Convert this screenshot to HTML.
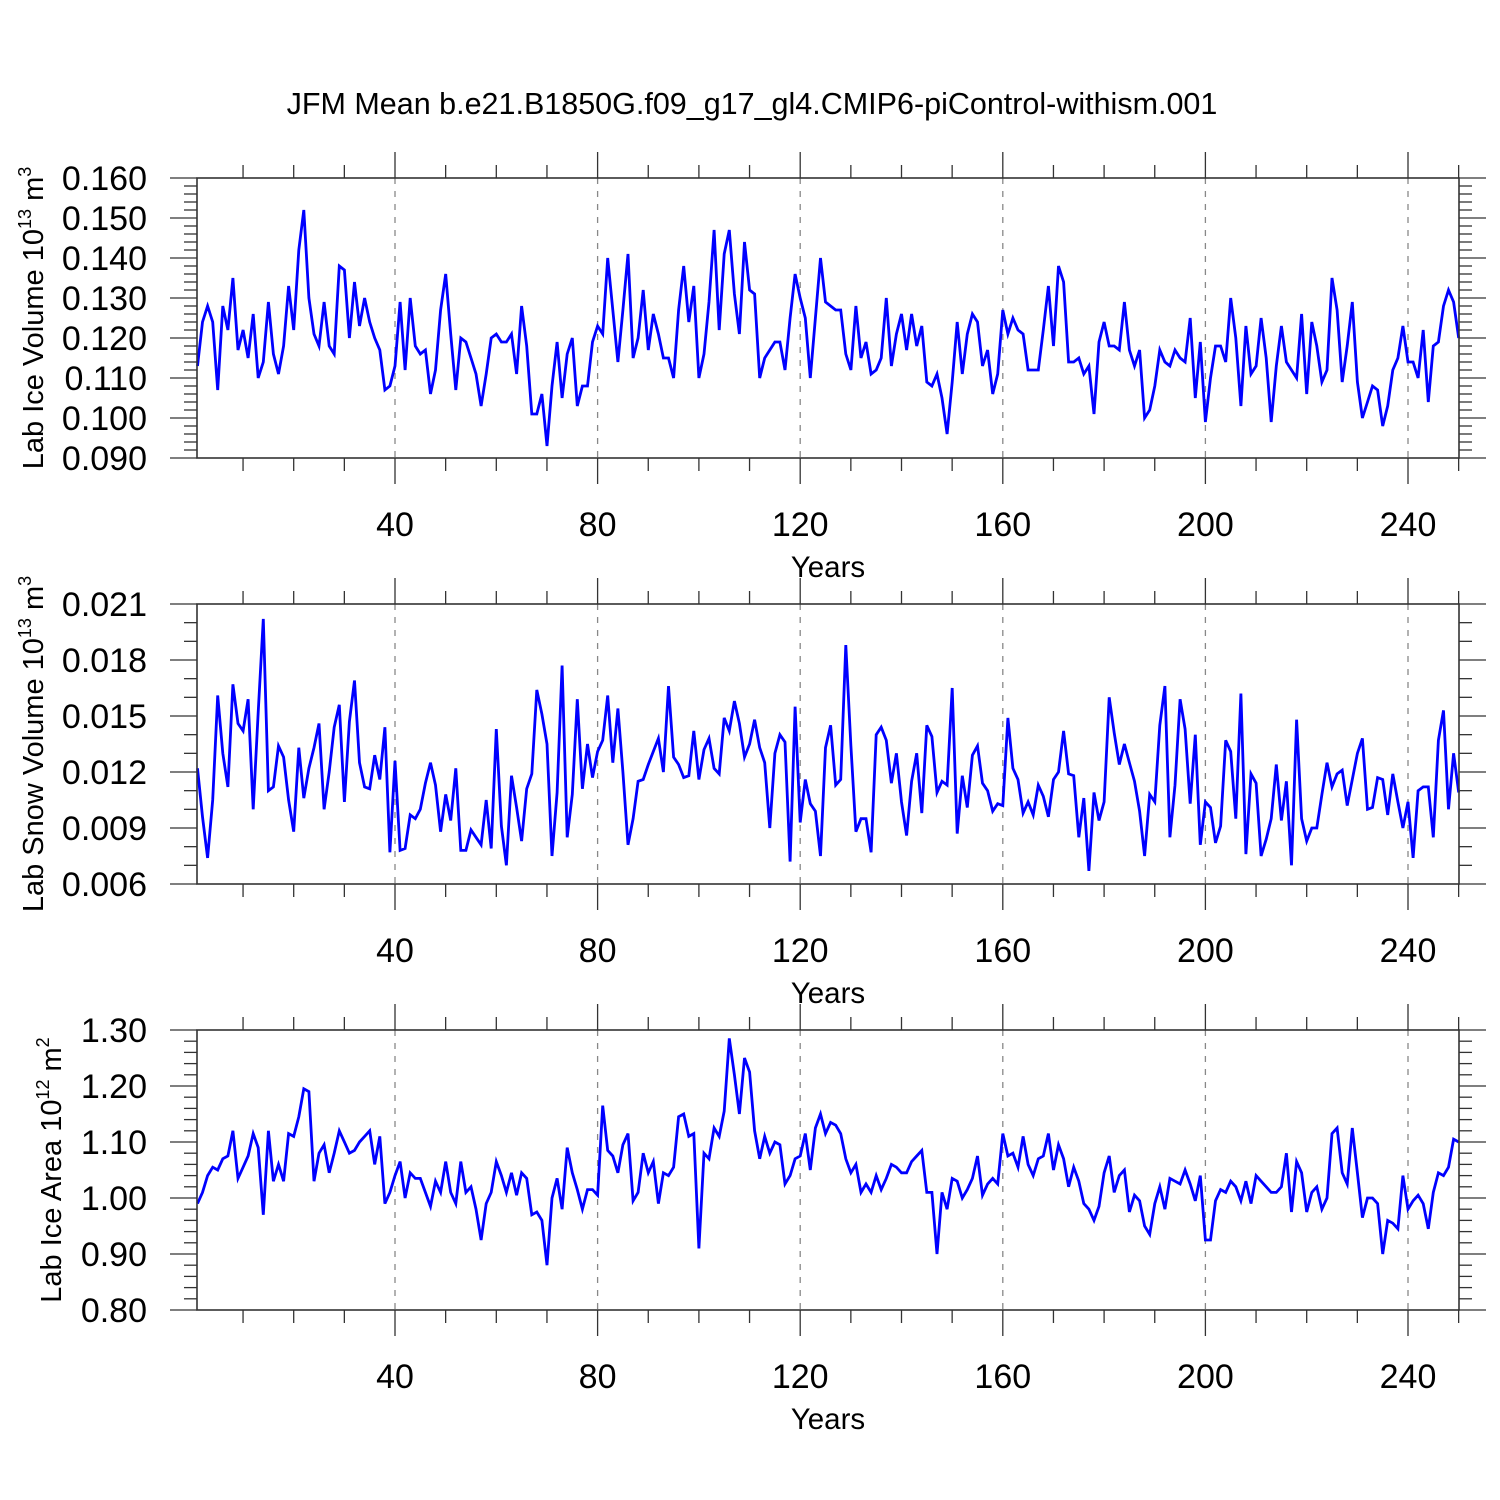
<!DOCTYPE html>
<html><head><meta charset="utf-8">
<style>
html,body{margin:0;padding:0;background:#fff;}
svg{display:block;font-family:"Liberation Sans",Arial,sans-serif;}
</style></head>
<body>
<svg id="chart" width="1500" height="1500" viewBox="0 0 1500 1500" xmlns="http://www.w3.org/2000/svg">
<rect width="1500" height="1500" fill="#fff"/>
<text x="752" y="114" font-size="30.5" text-anchor="middle" fill="#000">JFM Mean b.e21.B1850G.f09_g17_gl4.CMIP6-piControl-withism.001</text>
</svg>
<script>
const iceVolume=[0.113,0.124,0.128,0.124,0.107,0.128,0.122,0.135,0.117,0.122,0.115,0.126,0.110,0.114,0.129,0.116,0.111,0.118,0.133,0.122,0.142,0.152,0.130,0.121,0.118,0.129,0.118,0.116,0.138,0.137,0.120,0.134,0.123,0.130,0.124,0.120,0.117,0.107,0.108,0.113,0.129,0.112,0.130,0.118,0.116,0.117,0.106,0.112,0.127,0.136,0.121,0.107,0.120,0.119,0.115,0.111,0.103,0.111,0.120,0.121,0.119,0.119,0.121,0.111,0.128,0.118,0.101,0.101,0.106,0.093,0.108,0.119,0.105,0.116,0.120,0.103,0.108,0.108,0.119,0.123,0.121,0.140,0.127,0.114,0.127,0.141,0.115,0.120,0.132,0.117,0.126,0.121,0.115,0.115,0.110,0.127,0.138,0.124,0.133,0.110,0.116,0.129,0.147,0.122,0.141,0.147,0.131,0.121,0.144,0.132,0.131,0.110,0.115,0.117,0.119,0.119,0.112,0.125,0.136,0.130,0.125,0.110,0.125,0.140,0.129,0.128,0.127,0.127,0.116,0.112,0.128,0.115,0.119,0.111,0.112,0.115,0.130,0.113,0.121,0.126,0.117,0.126,0.118,0.123,0.109,0.108,0.111,0.105,0.096,0.109,0.124,0.111,0.121,0.126,0.124,0.113,0.117,0.106,0.111,0.127,0.121,0.125,0.122,0.121,0.112,0.112,0.112,0.122,0.133,0.118,0.138,0.134,0.114,0.114,0.115,0.111,0.113,0.101,0.119,0.124,0.118,0.118,0.117,0.129,0.117,0.113,0.117,0.100,0.102,0.108,0.117,0.114,0.113,0.117,0.115,0.114,0.125,0.105,0.119,0.099,0.110,0.118,0.118,0.114,0.130,0.120,0.103,0.123,0.111,0.113,0.125,0.115,0.099,0.113,0.123,0.114,0.112,0.110,0.126,0.106,0.124,0.118,0.109,0.112,0.135,0.127,0.109,0.118,0.129,0.109,0.100,0.104,0.108,0.107,0.098,0.103,0.112,0.115,0.123,0.114,0.114,0.110,0.122,0.104,0.118,0.119,0.128,0.132,0.129,0.120];
const snowVolume=[0.0122,0.0096,0.0074,0.0105,0.0161,0.0130,0.0112,0.0167,0.0146,0.0142,0.0159,0.0100,0.0152,0.0202,0.0110,0.0112,0.0134,0.0128,0.0105,0.0088,0.0133,0.0106,0.0122,0.0133,0.0146,0.0100,0.0120,0.0144,0.0156,0.0104,0.0147,0.0169,0.0125,0.0112,0.0111,0.0129,0.0116,0.0144,0.0077,0.0126,0.0078,0.0079,0.0097,0.0095,0.0100,0.0114,0.0125,0.0113,0.0088,0.0108,0.0094,0.0122,0.0078,0.0078,0.0089,0.0085,0.0081,0.0105,0.0079,0.0143,0.0091,0.0070,0.0118,0.0101,0.0083,0.0111,0.0119,0.0164,0.0151,0.0135,0.0075,0.0109,0.0177,0.0085,0.0108,0.0159,0.0111,0.0135,0.0117,0.0131,0.0137,0.0161,0.0125,0.0154,0.0120,0.0081,0.0095,0.0115,0.0116,0.0124,0.0131,0.0138,0.0120,0.0166,0.0128,0.0124,0.0117,0.0118,0.0142,0.0116,0.0132,0.0138,0.0122,0.0119,0.0149,0.0142,0.0158,0.0146,0.0128,0.0135,0.0148,0.0133,0.0125,0.0090,0.0130,0.0140,0.0136,0.0072,0.0155,0.0093,0.0116,0.0103,0.0099,0.0075,0.0133,0.0145,0.0113,0.0116,0.0188,0.0134,0.0088,0.0095,0.0095,0.0077,0.0140,0.0144,0.0137,0.0114,0.0130,0.0104,0.0086,0.0115,0.0130,0.0098,0.0145,0.0139,0.0109,0.0115,0.0113,0.0165,0.0087,0.0118,0.0101,0.0129,0.0134,0.0114,0.0110,0.0099,0.0103,0.0102,0.0149,0.0122,0.0116,0.0098,0.0104,0.0097,0.0113,0.0107,0.0096,0.0116,0.0120,0.0142,0.0119,0.0118,0.0085,0.0106,0.0067,0.0109,0.0094,0.0104,0.0160,0.0141,0.0124,0.0135,0.0125,0.0115,0.0099,0.0075,0.0108,0.0104,0.0145,0.0166,0.0085,0.0113,0.0159,0.0143,0.0103,0.0140,0.0081,0.0104,0.0101,0.0082,0.0091,0.0137,0.0131,0.0095,0.0162,0.0076,0.0119,0.0114,0.0075,0.0084,0.0095,0.0124,0.0094,0.0115,0.0070,0.0148,0.0095,0.0083,0.0090,0.0090,0.0108,0.0125,0.0112,0.0119,0.0121,0.0102,0.0116,0.0130,0.0138,0.0100,0.0101,0.0117,0.0116,0.0097,0.0119,0.0104,0.0090,0.0104,0.0074,0.0110,0.0112,0.0112,0.0085,0.0137,0.0153,0.0100,0.0130,0.0109];
const iceArea=[0.99,1.01,1.04,1.055,1.05,1.07,1.075,1.12,1.035,1.055,1.075,1.115,1.09,0.97,1.12,1.03,1.06,1.03,1.115,1.11,1.145,1.195,1.19,1.03,1.08,1.095,1.045,1.08,1.12,1.10,1.08,1.085,1.10,1.11,1.12,1.06,1.11,0.99,1.01,1.04,1.065,1.00,1.045,1.035,1.035,1.01,0.985,1.03,1.01,1.065,1.01,0.99,1.065,1.01,1.02,0.98,0.925,0.99,1.01,1.065,1.04,1.01,1.045,1.005,1.045,1.035,0.97,0.975,0.96,0.88,1.00,1.035,0.98,1.09,1.045,1.015,0.98,1.015,1.015,1.005,1.165,1.085,1.075,1.045,1.095,1.115,0.995,1.01,1.08,1.045,1.065,0.99,1.045,1.04,1.055,1.145,1.15,1.11,1.115,0.91,1.08,1.07,1.125,1.11,1.155,1.285,1.22,1.15,1.25,1.225,1.12,1.07,1.11,1.08,1.10,1.095,1.025,1.04,1.07,1.075,1.115,1.05,1.125,1.15,1.115,1.135,1.13,1.115,1.07,1.045,1.06,1.01,1.025,1.01,1.04,1.015,1.035,1.06,1.055,1.045,1.045,1.065,1.075,1.085,1.01,1.01,0.90,1.01,0.98,1.035,1.03,1.00,1.015,1.035,1.075,1.005,1.025,1.035,1.025,1.115,1.075,1.08,1.055,1.11,1.06,1.04,1.07,1.075,1.115,1.05,1.095,1.07,1.02,1.055,1.03,0.99,0.98,0.96,0.985,1.045,1.075,1.01,1.04,1.05,0.975,1.005,0.995,0.95,0.935,0.99,1.02,0.98,1.035,1.03,1.025,1.05,1.025,0.995,1.04,0.925,0.925,0.995,1.015,1.01,1.03,1.02,0.995,1.03,0.99,1.04,1.03,1.02,1.01,1.01,1.02,1.08,0.975,1.065,1.045,0.975,1.01,1.02,0.98,1.00,1.115,1.125,1.045,1.025,1.125,1.045,0.965,1.00,1.00,0.99,0.90,0.96,0.955,0.945,1.04,0.98,0.995,1.005,0.99,0.945,1.01,1.045,1.04,1.055,1.105,1.10];
const xTickLabels=["40","80","120","160","200","240"];
const xTicks=[40,80,120,160,200,240];
const ticks1=["0.090","0.100","0.110","0.120","0.130","0.140","0.150","0.160"];
const ticks2=["0.006","0.009","0.012","0.015","0.018","0.021"];
const ticks3=["0.80","0.90","1.00","1.10","1.20","1.30"];

const NS="http://www.w3.org/2000/svg";
const svg=document.getElementById('chart');
function mk(tag,attrs,parent){const e=document.createElementNS(NS,tag);for(const k in attrs)e.setAttribute(k,attrs[k]);(parent||svg).appendChild(e);return e;}
const X0=197,X1=1459;
function xs(yr){return 192.4+5.065*yr;}
const AX="#333";

function panel(p){
  const g=mk('g',{});
  
  
  const top=p.top,bot=p.top+280;
  const ys=v=>bot-(v-p.min)/(p.max-p.min)*280;
  xTicks.forEach(t=>{
    const l=mk('line',{x1:xs(t),x2:xs(t),y1:top,y2:bot,stroke:"#888","stroke-width":1.3,"stroke-dasharray":"6,7"},g);
    
    
  });
  for(let yr=10;yr<=250;yr+=10){
    const major=yr%40===0;const L=major?26:13;
    mk('line',{x1:xs(yr),x2:xs(yr),y1:top,y2:top-L,stroke:AX,"stroke-width":1.3},g);
    mk('line',{x1:xs(yr),x2:xs(yr),y1:bot,y2:bot+L,stroke:AX,"stroke-width":1.3},g);
  }
  const n=p.labels.length-1;
  for(let i=0;i<=n*p.sub;i++){
    const v=p.min+(p.max-p.min)*i/(n*p.sub);const y=ys(v);
    const major=i%p.sub===0;const L=major?27:13;
    mk('line',{x1:X0,x2:X0-L,y1:y,y2:y,stroke:AX,"stroke-width":1.3},g);
    mk('line',{x1:X1,x2:X1+L,y1:y,y2:y,stroke:AX,"stroke-width":1.3},g);
  }
  p.labels.forEach((lab,i)=>{
    const t=mk('text',{x:147,y:ys(p.min+(p.max-p.min)*i/n)+12,"font-size":34,"text-anchor":"end",fill:"#000"},g);
    t.textContent=lab;
    
    
  });
  xTicks.forEach((t,i)=>{
    const e=mk('text',{x:xs(t),y:bot+78,"font-size":34,"text-anchor":"middle",fill:"#000"},g);
    e.textContent=xTickLabels[i];
    
    
  });
  const xt=mk('text',{x:828,y:bot+119,"font-size":29.5,"text-anchor":"middle",fill:"#000"},g);
  xt.textContent="Years";
  
  
  const yt=mk('text',{x:0,y:0,"font-size":29,"text-anchor":"middle",fill:"#000",transform:`translate(${p.tx},${top+140}) rotate(-90)`},g);
  yt.innerHTML=p.title+" 10<tspan dy='-12' font-size='18'>"+p.exp+"</tspan><tspan dy='12'> m</tspan><tspan dy='-12' font-size='18'>"+p.sup+"</tspan>";
  
  
  const pts=p.data.map((v,i)=>xs(i+1).toFixed(1)+","+ys(v).toFixed(1)).join(" ");
  const pl=mk('polyline',{points:pts,fill:"none",stroke:"#0000ff","stroke-width":2.8,"stroke-linejoin":"miter"},g);
  
  
  const box=mk('rect',{x:X0,y:top,width:X1-X0,height:280,fill:"none",stroke:AX,"stroke-width":1.6},g);
  
  
}
panel({name:'ice-volume-panel',top:178,min:0.09,max:0.16,labels:ticks1,sub:5,data:iceVolume,title:"Lab Ice Volume",exp:"13",sup:"3",tx:43});
panel({name:'snow-volume-panel',top:604,min:0.006,max:0.021,labels:ticks2,sub:3,data:snowVolume,title:"Lab Snow Volume",exp:"13",sup:"3",tx:43});
panel({name:'ice-area-panel',top:1030,min:0.8,max:1.3,labels:ticks3,sub:5,data:iceArea,title:"Lab Ice Area",exp:"12",sup:"2",tx:61});
</script>
</body></html>
